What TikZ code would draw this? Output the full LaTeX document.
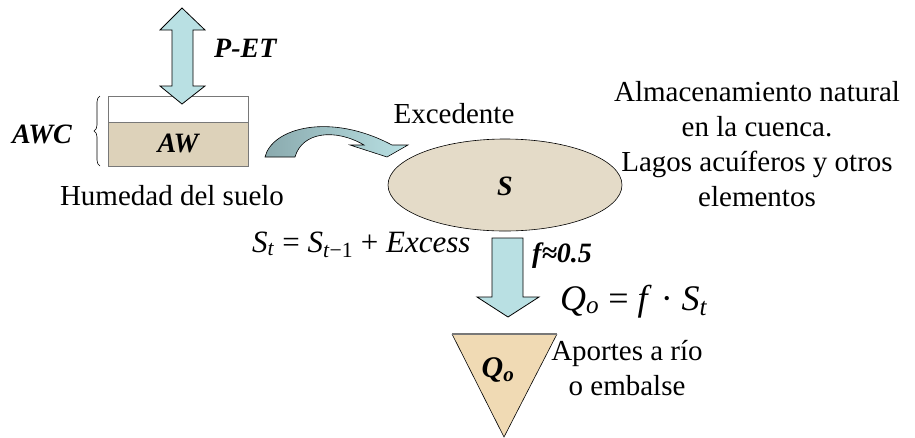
\documentclass[tikz,border=0pt]{standalone}
\usepackage{fontspec}
\setmainfont{Liberation Serif}
\usetikzlibrary{decorations.pathreplacing}
\definecolor{myaqua}{RGB}{185,224,227}
\definecolor{mydark}{RGB}{138,170,174}
\definecolor{mysand}{RGB}{221,210,186}
\definecolor{mytan}{RGB}{240,218,180}
\definecolor{myedge}{RGB}{120,120,120}

\begin{document}
\begin{tikzpicture}[x=1pt,y=-1pt,
  txt/.style={font=\fontsize{29}{35}\selectfont, inner sep=0pt, align=center},
  var/.style={font=\fontsize{28}{34}\selectfont\bfseries\itshape, inner sep=0pt},
  eqn/.style={font=\fontsize{31}{36}\selectfont, inner sep=0pt},
  flow/.style={fill=myaqua, draw=black, line width=0.8pt, line join=miter}]
\useasboundingbox (0,0) rectangle (915,437);
%soil box
\coordinate (B1) at (108,96);
\coordinate (B2) at (248,122);
\coordinate (B3) at (248,166);
\fill[mysand] (B1 |- B2) rectangle (B3);
\draw[myedge, line width=1pt] (B1) rectangle (B2);
\draw[myedge, line width=1pt] (B1 |- B2) rectangle (B3);
\node[var] (aw) at (178,143) {AW};
\draw[line width=0.6pt, decorate, decoration={brace, amplitude=6pt}] (100,166) -- (100,96);
\node[var, anchor=base west] (awc) at (12,143) {AWC};
\node[txt, anchor=base] (hum) at (172,205) {Humedad del suelo};

%P-ET double arrow
\draw[flow] (182,8) -- (205,30) -- (193,30) -- (193,86) -- (205,86) -- (182,104)
  -- (160,86) -- (172,86) -- (172,30) -- (160,30) -- cycle;
\node[var, anchor=base west] (pet) at (214,57) {P-ET};

%curved arrow
\shade[left color=mydark, right color=myaqua, draw=black, line width=0.6pt]
  (265,157) .. controls (272,128) and (330,112) .. (392,145) -- (408,145) -- (387,157)
  -- (350,145) -- (364,145) .. controls (335,128) and (302,132) .. (295,157) -- cycle;
\node[txt, anchor=base] (exc) at (454,123) {Excedente};

%storage
\draw[fill=mysand!80!white, line width=0.6pt] (505,185) ellipse (117 and 46);
\node[var] (s) at (505,186) {S};
\node[txt, anchor=north] (alm) at (757,81)
  {Almacenamiento natural\\ en la cuenca.\\ Lagos acuíferos y otros\\ elementos};
\node[eqn, anchor=base west] (eq1) at (252,252)
  {\textit{S}\textsubscript{\textit{t}} = \textit{S}\textsubscript{\textit{t}−1} + \textit{Excess}};

%outflow
\draw[flow] (492,238) -- (523,238) -- (523,297) -- (539,297) -- (508,317) -- (477,297)
  -- (492,297) -- cycle;
\node[var, anchor=west] (f) at (532,256) {f≈0.5};
\node[eqn, font=\fontsize{36}{40}\selectfont, anchor=base west] (eq2) at (560,310)
  {\textit{Q}\textsubscript{\textit{o}} = \textit{f} · \textit{S}\textsubscript{\textit{t}}};

%river
\fill[mytan] (452,334) -- (557,334) -- (504,437) -- cycle;
\draw[line width=0.6pt] (557,334) -- (504,437) -- (452,334);
\draw[myedge, line width=2pt] (452,334) -- (557,334);
\node[var, font=\fontsize{30}{34}\selectfont\bfseries\itshape] (q) at (498,370) {Q\textsubscript{o}};
\node[txt, anchor=north] (apo) at (627,340) {Aportes a río\\ o embalse};
\end{tikzpicture}
\end{document}
